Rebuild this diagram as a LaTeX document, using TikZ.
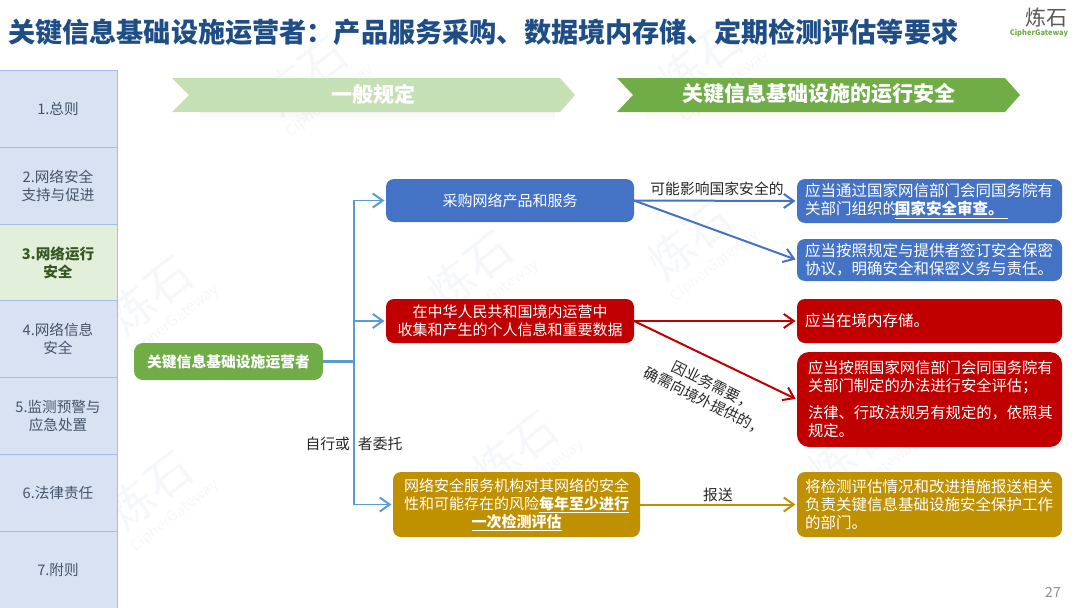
\documentclass[tikz,border=0pt]{standalone}
\usepackage{fontspec}
\setmainfont{Noto Sans CJK SC}
\usepackage{tikz}
\usetikzlibrary{arrows.meta, positioning, fadings}
\definecolor{SideBlue}{RGB}{217,226,243}
\definecolor{SideLine}{RGB}{164,189,232}
\definecolor{SideText}{RGB}{68,84,106}
\definecolor{SideGreen}{RGB}{226,239,218}
\definecolor{SideDark}{RGB}{56,87,35}
\definecolor{TitleBlue}{RGB}{31,78,134}
\definecolor{OperGreen}{RGB}{112,173,71}
\definecolor{PaleGreen}{RGB}{197,224,180}
\definecolor{OperBlue}{RGB}{68,114,196}
\definecolor{OperRed}{RGB}{192,0,0}
\definecolor{OperGold}{RGB}{191,144,0}
\definecolor{TrunkBlue}{RGB}{91,155,213}
\definecolor{MarkGray}{RGB}{245,247,250}
\newcommand{\subr}[1]{\underline{\textbf{#1}}}

\begin{document}
\begin{tikzpicture}[x=1pt, y=-1pt, node distance=0pt,
	seccion/.style={rectangle, draw=SideLine, line width=1pt, fill=SideBlue, text=SideText, align=center,
		minimum width=118pt, minimum height=76.8pt, inner sep=0pt, outer sep=0pt,
		font=\fontsize{14.6pt}{18pt}\selectfont},
	seccionon/.style={seccion, fill=SideGreen, text=SideDark, font=\fontsize{14.6pt}{18pt}\selectfont\bfseries},
	caja/.style={rectangle, rounded corners=8pt, align=center, text=white, inner sep=0pt, outer sep=0pt,
		minimum width=248pt, font=\fontsize{15pt}{18pt}\selectfont},
	nota/.style={caja, align=left, minimum width=0pt, text width=249pt, inner xsep=8pt},
	etiq/.style={text=black!85, inner sep=0pt, font=\fontsize{14.8pt}{18pt}\selectfont},
	marca/.style={text=MarkGray, inner sep=0pt, rotate=38},
	fl/.style={-{Straight Barb[length=10pt, width=14pt, line width=2pt]}, line width=2pt, shorten >=1.5pt},
	tronco/.style={TrunkBlue, line width=1.5pt}]

	\useasboundingbox (0,0) rectangle (1080,608);

	\foreach \mx/\my/\mid in {305/75/a, 150/295/b, 690/240/c, 515/450/d, 150/490/e, 850/450/f, 470/270/g, 700/60/h}{
		\node[marca, font=\fontsize{46pt}{50pt}\selectfont] (mark\mid) at (\mx,\my) {炼石};
		\node[marca, font=\fontsize{15pt}{18pt}\selectfont] (sub\mid) at (\mx+25,\my+26) {CipherGateway};
	}

	% titulo y logo
	\node[anchor=west, inner sep=0pt, text=TitleBlue, font=\fontsize{27.15pt}{30pt}\selectfont\bfseries] (title) at (8,32)
		{关键信息基础设施运营者：产品服务采购、数据境内存储、定期检测评估等要求};
	\node[text=black!65, inner sep=0pt, font=\fontsize{21pt}{24pt}\selectfont] (logo) at (1046,18) {炼石};
	\node[text=OperGreen, inner sep=0pt, font=\fontsize{7.5pt}{10pt}\selectfont\bfseries] (logosub) at (1039,33) {CipherGateway};
	\node[text=black!45, inner sep=0pt, font=\fontsize{14pt}{16pt}\selectfont] (page) at (1053,592) {27};

	% barra lateral
	\node[seccion, anchor=north west] (s1) at (-1,70.5) {1.总则};
	\node[seccion, below=of s1] (s2) {2.网络安全\\支持与促进};
	\node[seccionon, below=of s2] (s3) {3.网络运行\\安全};
	\node[seccion, below=of s3] (s4) {4.网络信息\\安全};
	\node[seccion, below=of s4] (s5) {5.监测预警与\\应急处置};
	\node[seccion, below=of s5] (s6) {6.法律责任};
	\node[seccion, below=of s6] (s7) {7.附则};

	% bandas
	\fill[gray, opacity=.07, path fading=south] (200,112) rectangle (555,123);
	\fill[orange!60!gray, opacity=.06, path fading=south] (645,112) rectangle (1000,123);
	\fill[PaleGreen] (172,78) -- (560,78) -- (575,95) -- (560,112) -- (172,112) -- (189,95) -- cycle;
	\fill[OperGreen] (617,78) -- (1005,78) -- (1020,95) -- (1005,112) -- (617,112) -- (633,95) -- cycle;
	\node[text=white, inner sep=0pt, font=\fontsize{21pt}{24pt}\selectfont\bfseries] (bandA) at (373,94) {一般规定};
	\node[text=white, inner sep=0pt, font=\fontsize{21pt}{24pt}\selectfont\bfseries] (bandB) at (819,94) {关键信息基础设施的运行安全};

	% cajas
	\node[caja, fill=OperGreen, anchor=north west, minimum width=189pt, minimum height=37pt, rounded corners=9pt,
		font=\fontsize{14.8pt}{18pt}\selectfont\bfseries] (oper) at (134,343) {关键信息基础设施运营者};
	\node[caja, fill=OperBlue, anchor=north west, minimum height=43pt] (buy) at (386,179) {采购网络产品和服务};
	\node[caja, fill=OperRed, anchor=north west, minimum height=44pt] (data) at (386,299) {在中华人民共和国境内运营中\\收集和产生的个人信息和重要数据};
	\node[caja, fill=OperGold, anchor=north west, minimum width=247pt, minimum height=65pt] (test) at (393,472)
		{网络安全服务机构对其网络的安全\\性和可能存在的风险\subr{每年至少进行}\\\subr{一次检测评估}};

	\node[nota, fill=OperBlue, anchor=north west, minimum height=44pt, font=\fontsize{15.5pt}{18pt}\selectfont] (review) at (797,179)
		{应当通过国家网信部门会同国务院有\\关部门组织的\hspace{-3pt}\subr{国家安全审查。\hspace{4pt}}};
	\node[nota, fill=OperBlue, below=16pt of review, minimum height=42pt, font=\fontsize{15.5pt}{18pt}\selectfont] (secret)
		{应当按照规定与提供者签订安全保密\\协议，明确安全和保密义务与责任。};
	\node[nota, fill=OperRed, anchor=north west, minimum height=44pt, font=\fontsize{15.5pt}{18pt}\selectfont] (store) at (797,299)
		{应当在境内存储。};
	\node[nota, fill=OperRed, below=9pt of store, minimum height=95pt, rounded corners=12pt, font=\fontsize{15.3pt}{18pt}\selectfont] (assess)
		{\hspace{3pt}应当按照国家网信部门会同国务院有\\[0pt]\hspace{3pt}关部门制定的办法进行安全评估；\\[9pt]\hspace{3pt}法律、行政法规另有规定的，依照其\\[0pt]\hspace{3pt}规定。};
	\node[nota, fill=OperGold, anchor=north west, minimum height=65pt, font=\fontsize{15.5pt}{18pt}\selectfont] (report) at (797,472)
		{将检测评估情况和改进措施报送相关\\负责关键信息基础设施安全保护工作\\的部门。};

	% conectores
	\coordinate[right=31pt of oper.east] (fork);
	\draw[TrunkBlue, line width=2.5pt] (oper.east) -- (fork);
	\draw[fl, tronco] (fork) |- (buy.west);
	\draw[fl, tronco] (fork) |- (data.west);
	\draw[fl, tronco] (fork) |- (test.west);

	\draw[fl, OperBlue] (buy.east) -- (review.west);
	\draw[fl, OperBlue] (buy.east) -- (secret.west);
	\draw[fl, OperRed] (data.east) -- (store.west);
	\draw[fl, OperRed] (data.east) -- (assess.west);
	\draw[fl, OperGold] (test.east) -- (report.west);

	\node[etiq] (l1) at (717,189) {可能影响国家安全的};
	\node[etiq, align=center, rotate=-26.5] (l2) at (709,393) {因业务需要，\\确需向境外提供的，};
	\node[etiq] (l3) at (718,495) {报送};
	\node[etiq] (l4) at (354,444) {自行或\hspace{8pt}者委托};
\end{tikzpicture}
\end{document}
